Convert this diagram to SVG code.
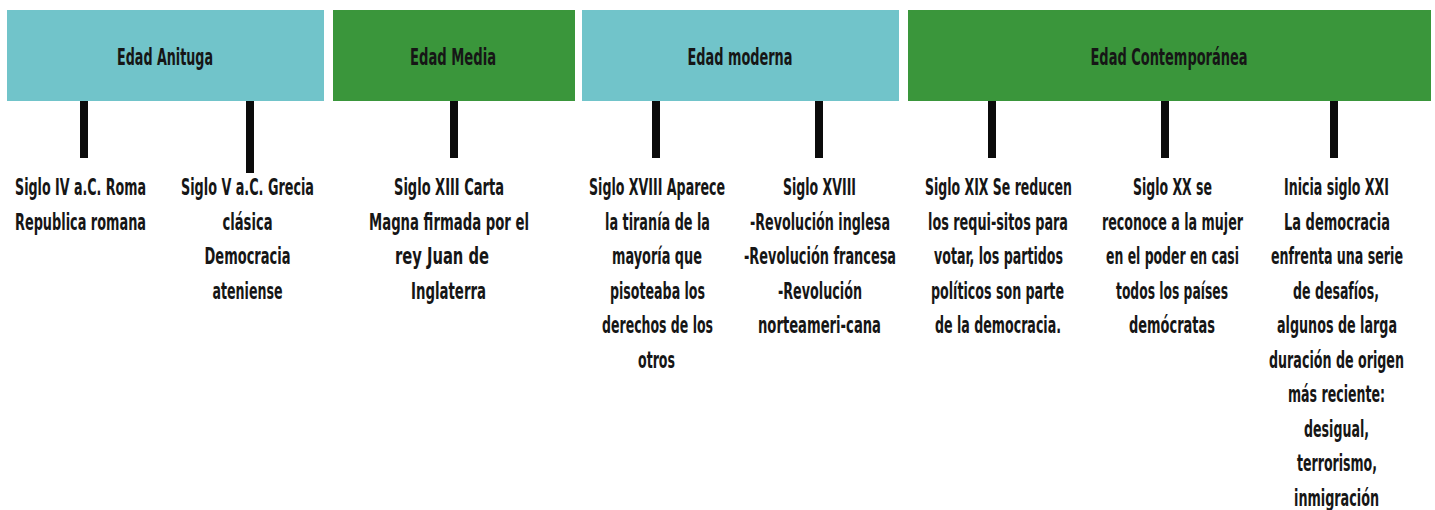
<svg xmlns="http://www.w3.org/2000/svg" width="1435" height="510" viewBox="0 0 1435 510">
<style>
.teal{fill:#71C4CA}
.green{fill:#3A963B}
.h,.t{font-family:"DejaVu Sans","Liberation Sans",sans-serif;font-weight:bold;font-stretch:condensed;font-size:23px;fill:#161616;text-anchor:middle}
.bar{fill:#0b0b0b}
</style>
<rect width="1435" height="510" fill="#ffffff"/>
<g id="connectors">
<rect class="bar" x="80" y="101" width="8" height="57"/>
<rect class="bar" x="246" y="98" width="8" height="75"/>
<rect class="bar" x="450" y="101" width="8" height="57"/>
<rect class="bar" x="652" y="101" width="8" height="57"/>
<rect class="bar" x="815" y="101" width="8" height="57"/>
<rect class="bar" x="988" y="101" width="8" height="57"/>
<rect class="bar" x="1161" y="101" width="8" height="57"/>
<rect class="bar" x="1330" y="101" width="8" height="57"/>
</g>
<g id="edad-antigua">
<rect class="teal" x="7" y="10" width="317" height="91"/>
<text class="h" transform="translate(165 65) scale(0.625 1)" textLength="153.6" lengthAdjust="spacingAndGlyphs">Edad Anituga</text>
</g>
<g id="edad-media">
<rect class="green" x="333" y="10" width="242" height="91"/>
<text class="h" transform="translate(453 65) scale(0.625 1)" textLength="137.6" lengthAdjust="spacingAndGlyphs">Edad Media</text>
</g>
<g id="edad-moderna">
<rect class="teal" x="582" y="10" width="317" height="91"/>
<text class="h" transform="translate(740 65) scale(0.625 1)" textLength="168" lengthAdjust="spacingAndGlyphs">Edad moderna</text>
</g>
<g id="edad-contemporanea">
<rect class="green" x="908" y="10" width="523" height="91"/>
<text class="h" transform="translate(1169 65) scale(0.625 1)" textLength="251.2" lengthAdjust="spacingAndGlyphs">Edad Contemporánea</text>
</g>
<g id="roma">
<text class="t" transform="translate(80.5 195) scale(0.625 1)" textLength="209.6" lengthAdjust="spacingAndGlyphs">Siglo IV a.C. Roma</text>
<text class="t" transform="translate(80.5 229.5) scale(0.625 1)" textLength="209.6" lengthAdjust="spacingAndGlyphs">Republica romana</text>
</g>
<g id="grecia">
<text class="t" transform="translate(247.5 195) scale(0.625 1)" textLength="212.8" lengthAdjust="spacingAndGlyphs">Siglo V a.C. Grecia</text>
<text class="t" transform="translate(247.5 229.5) scale(0.625 1)" textLength="80" lengthAdjust="spacingAndGlyphs">clásica</text>
<text class="t" transform="translate(247.5 264) scale(0.625 1)" textLength="137.6" lengthAdjust="spacingAndGlyphs">Democracia</text>
<text class="t" transform="translate(247.5 298.5) scale(0.625 1)" textLength="112" lengthAdjust="spacingAndGlyphs">ateniense</text>
</g>
<g id="carta-magna">
<text class="t" transform="translate(449 195) scale(0.625 1)" textLength="176" lengthAdjust="spacingAndGlyphs">Siglo XIII Carta</text>
<text class="t" transform="translate(449 229.5) scale(0.625 1)" textLength="256" lengthAdjust="spacingAndGlyphs">Magna firmada por el</text>
<text class="t" transform="translate(442 264) scale(0.625 1)" textLength="150.4" lengthAdjust="spacingAndGlyphs">rey Juan de</text>
<text class="t" transform="translate(448.5 298.5) scale(0.625 1)" textLength="120" lengthAdjust="spacingAndGlyphs">Inglaterra</text>
</g>
<g id="tirania">
<text class="t" transform="translate(657 195) scale(0.625 1)" textLength="217.6" lengthAdjust="spacingAndGlyphs">Siglo XVIII Aparece</text>
<text class="t" transform="translate(657.5 229.5) scale(0.625 1)" textLength="168" lengthAdjust="spacingAndGlyphs">la tiranía de la</text>
<text class="t" transform="translate(657 264) scale(0.625 1)" textLength="144" lengthAdjust="spacingAndGlyphs">mayoría que</text>
<text class="t" transform="translate(657.5 298.5) scale(0.625 1)" textLength="152" lengthAdjust="spacingAndGlyphs">pisoteaba los</text>
<text class="t" transform="translate(657.5 333) scale(0.625 1)" textLength="177.6" lengthAdjust="spacingAndGlyphs">derechos de los</text>
<text class="t" transform="translate(656.5 367.5) scale(0.625 1)" textLength="59.2" lengthAdjust="spacingAndGlyphs">otros</text>
</g>
<g id="revoluciones">
<text class="t" transform="translate(819.5 195) scale(0.625 1)" textLength="116.8" lengthAdjust="spacingAndGlyphs">Siglo XVIII</text>
<text class="t" transform="translate(820 229.5) scale(0.625 1)" textLength="224" lengthAdjust="spacingAndGlyphs">-Revolución inglesa</text>
<text class="t" transform="translate(820 264) scale(0.625 1)" textLength="243.2" lengthAdjust="spacingAndGlyphs">-Revolución francesa</text>
<text class="t" transform="translate(820 298.5) scale(0.625 1)" textLength="134.4" lengthAdjust="spacingAndGlyphs">-Revolución</text>
<text class="t" transform="translate(819.5 333) scale(0.625 1)" textLength="196.8" lengthAdjust="spacingAndGlyphs">norteameri-cana</text>
</g>
<g id="siglo-xix">
<text class="t" transform="translate(998.5 195) scale(0.625 1)" textLength="235.2" lengthAdjust="spacingAndGlyphs">Siglo XIX Se reducen</text>
<text class="t" transform="translate(998 229.5) scale(0.625 1)" textLength="224" lengthAdjust="spacingAndGlyphs">los requi-sitos para</text>
<text class="t" transform="translate(998.5 264) scale(0.625 1)" textLength="206.4" lengthAdjust="spacingAndGlyphs">votar, los partidos</text>
<text class="t" transform="translate(997.5 298.5) scale(0.625 1)" textLength="212.8" lengthAdjust="spacingAndGlyphs">políticos son parte</text>
<text class="t" transform="translate(998 333) scale(0.625 1)" textLength="201.6" lengthAdjust="spacingAndGlyphs">de la democracia.</text>
</g>
<g id="siglo-xx">
<text class="t" transform="translate(1172.5 195) scale(0.625 1)" textLength="126.4" lengthAdjust="spacingAndGlyphs">Siglo XX se</text>
<text class="t" transform="translate(1172.5 229.5) scale(0.625 1)" textLength="225.6" lengthAdjust="spacingAndGlyphs">reconoce a la mujer</text>
<text class="t" transform="translate(1172.5 264) scale(0.625 1)" textLength="212.8" lengthAdjust="spacingAndGlyphs">en el poder en casi</text>
<text class="t" transform="translate(1172 298.5) scale(0.625 1)" textLength="179.2" lengthAdjust="spacingAndGlyphs">todos los países</text>
<text class="t" transform="translate(1172 333) scale(0.625 1)" textLength="137.6" lengthAdjust="spacingAndGlyphs">demócratas</text>
</g>
<g id="siglo-xxi">
<text class="t" transform="translate(1336.5 195) scale(0.625 1)" textLength="168" lengthAdjust="spacingAndGlyphs">Inicia siglo XXI</text>
<text class="t" transform="translate(1337 229.5) scale(0.625 1)" textLength="169.6" lengthAdjust="spacingAndGlyphs">La democracia</text>
<text class="t" transform="translate(1337 264) scale(0.625 1)" textLength="211.2" lengthAdjust="spacingAndGlyphs">enfrenta una serie</text>
<text class="t" transform="translate(1336 298.5) scale(0.625 1)" textLength="137.6" lengthAdjust="spacingAndGlyphs">de desafíos,</text>
<text class="t" transform="translate(1337 333) scale(0.625 1)" textLength="192" lengthAdjust="spacingAndGlyphs">algunos de larga</text>
<text class="t" transform="translate(1336.5 367.5) scale(0.625 1)" textLength="216" lengthAdjust="spacingAndGlyphs">duración de origen</text>
<text class="t" transform="translate(1336.5 402) scale(0.625 1)" textLength="155.2" lengthAdjust="spacingAndGlyphs">más reciente:</text>
<text class="t" transform="translate(1336.5 436.5) scale(0.625 1)" textLength="104" lengthAdjust="spacingAndGlyphs">desigual,</text>
<text class="t" transform="translate(1337 471) scale(0.625 1)" textLength="128" lengthAdjust="spacingAndGlyphs">terrorismo,</text>
<text class="t" transform="translate(1336.5 505.5) scale(0.625 1)" textLength="136" lengthAdjust="spacingAndGlyphs">inmigración</text>
</g>
</svg>
